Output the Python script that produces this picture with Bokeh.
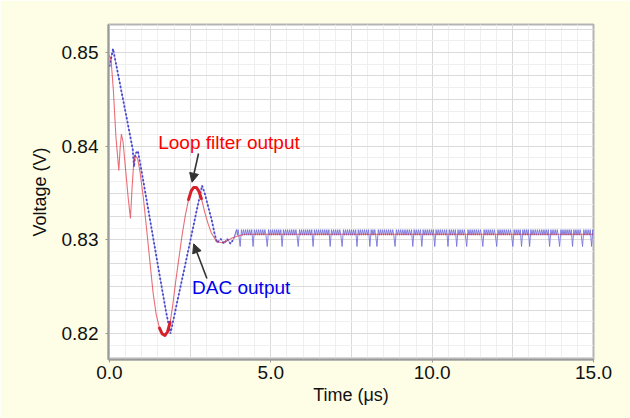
import numpy as np
from bokeh.plotting import figure
from bokeh.models import (Range1d, FixedTicker, SingleIntervalTicker, Arrow,
                          NormalHead, Label, NumeralTickFormatter)
from bokeh.embed import file_html
from bokeh.resources import INLINE

# ---- data ----
dac_t = [0.0, 0.11, 0.30, 0.50, 0.72, 0.76, 0.80, 0.88, 0.95, 1.20, 1.50, 1.75,
         1.89, 2.10, 2.40, 2.70, 2.87, 2.95, 3.10, 3.17, 3.25, 3.33, 3.45, 3.55,
         3.65, 3.75, 3.85]
dac_v = [0.8485, 0.8504, 0.8471, 0.8436, 0.8397, 0.8378, 0.8392, 0.8395, 0.8382,
         0.8333, 0.8273, 0.8224, 0.8200, 0.8234, 0.8282, 0.8331, 0.8358, 0.8350,
         0.8330, 0.8321, 0.8308, 0.8297, 0.8301, 0.8296, 0.8301, 0.8296, 0.8301]

lf_t = [0.0, 0.05, 0.12, 0.20, 0.29, 0.33, 0.37, 0.42, 0.50, 0.58, 0.65, 0.70,
        0.75, 0.80, 0.87, 0.95, 1.05, 1.15, 1.25, 1.35, 1.45, 1.55, 1.63, 1.72,
        1.80, 1.88, 1.96, 2.05, 2.15, 2.25, 2.35, 2.45, 2.53, 2.61, 2.69, 2.77,
        2.85, 2.95, 3.05, 3.15, 3.25, 3.35, 3.49, 3.65, 3.80, 3.95, 4.20, 15.0]
lf_v = [0.8497, 0.8492, 0.8460, 0.8410, 0.8374, 0.8398, 0.8413, 0.8405, 0.8375,
        0.8345, 0.8323, 0.8355, 0.8382, 0.8390, 0.8387, 0.8372, 0.8345, 0.8312,
        0.8278, 0.8244, 0.8220, 0.8206, 0.8200, 0.8198, 0.8202, 0.8212, 0.8230,
        0.8255, 0.8280, 0.8305, 0.8326, 0.8343, 0.8352, 0.8356, 0.8356, 0.8352,
        0.8344, 0.8330, 0.8318, 0.8308, 0.8302, 0.8298, 0.8297, 0.8299, 0.8302,
        0.8304, 0.8306, 0.8306]

dac_dip_times = [4.05, 4.45, 4.89, 5.35, 5.85, 6.31, 6.84, 7.21, 7.67, 8.07, 8.29,
                 8.85, 9.40, 9.68, 10.08, 10.49, 10.76, 11.07, 11.57, 12.00, 12.50,
                 12.77, 13.02, 13.64, 13.95, 14.35, 14.66, 14.94]
dac_hi, dac_lo, dac_dip = 0.8311, 0.8305, 0.8293
steady_start, t_end = 3.9, 15.0

x_ticks = [0, 5, 10, 15]
y_ticks = [0.82, 0.83, 0.84, 0.85]

# ---- steady-state DAC trace built from the dip times ----
ss_t, ss_v = [dac_t[-1]], [dac_v[-1]]
events = [steady_start] + dac_dip_times + [t_end]
for a, b in zip(events[:-1], events[1:]):
    n = max(2, int((b - a) / 0.035))
    for i, tt in enumerate(np.linspace(a + 0.04, b - 0.04, n)):
        ss_t.append(float(tt))
        ss_v.append(dac_hi if i % 2 == 0 else dac_lo)
    if b < t_end:
        ss_t.append(b)
        ss_v.append(dac_dip)

# ---- figure ----
p = figure(width=630, height=418, output_backend="svg", toolbar_location=None,
           x_range=Range1d(-0.03, 15.0), y_range=Range1d(0.81724, 0.85299),
           min_border_left=108, min_border_right=37, min_border_top=24,
           min_border_bottom=59)
p.background_fill_color = "white"
p.border_fill_color = "#fefee6"
p.outline_line_color = "#b4b4b4"
p.outline_line_width = 2

p.xgrid.ticker = SingleIntervalTicker(interval=2.5, num_minor_ticks=5)
p.ygrid.ticker = SingleIntervalTicker(interval=0.0025, num_minor_ticks=2)
for g in (p.xgrid, p.ygrid):
    g.grid_line_color = "#dadada"
    g.grid_line_width = 1
    g.minor_grid_line_color = "#efefef"

p.xaxis.ticker = FixedTicker(ticks=x_ticks)
p.yaxis.ticker = FixedTicker(ticks=y_ticks)
p.xaxis.formatter = NumeralTickFormatter(format="0.0")
p.yaxis.formatter = NumeralTickFormatter(format="0.00")
p.xaxis.axis_label = "Time (μs)"
p.yaxis.axis_label = "Voltage (V)"
for ax in (p.xaxis, p.yaxis):
    ax.axis_line_color = "#9a9a9a"
    ax.axis_line_width = 2
    ax.major_tick_line_color = "#9a9a9a"
    ax.major_tick_out = 3
    ax.major_tick_in = 0
    ax.minor_tick_line_color = None
    ax.major_label_text_font = "Liberation Sans"
    ax.major_label_text_font_size = "19px"
    ax.major_label_text_color = "#111111"
    ax.axis_label_text_font = "Liberation Sans"
    ax.axis_label_text_font_size = "18px"
    ax.axis_label_text_font_style = "normal"
    ax.axis_label_text_color = "#111111"
p.xaxis.major_label_standoff = 3
p.xaxis.axis_label_standoff = 3
p.yaxis.major_label_standoff = 7
p.yaxis.axis_label_standoff = 9

# DAC output (blue, dotted look)
p.line(dac_t + ss_t[1:2], dac_v + ss_v[1:2], line_color="#a0a0ea", line_width=1.0)
p.line(dac_t, dac_v, line_color="#4545cc", line_width=1.8, line_dash="2 2")
p.line(ss_t, ss_v, line_color="#7070dc", line_width=1.0, line_alpha=0.85)

# Loop filter output (red)
p.line(lf_t, lf_v, line_color="#e0303c", line_width=1.1, line_alpha=0.7)
sel1 = [i for i, t in enumerate(lf_t) if 1.50 <= t <= 1.92]
sel2 = [i for i, t in enumerate(lf_t) if 2.45 <= t <= 2.86]
for sel in (sel1, sel2):
    p.line([lf_t[i] for i in sel], [lf_v[i] for i in sel],
           line_color="#d8202a", line_width=3, line_join="round", line_cap="round")

# annotations
p.add_layout(Label(x=1.51, y=0.84043, text="Loop filter output",
                   text_color="#ff0000", text_font="Liberation Sans",
                   text_font_size="19px", text_baseline="middle"))
p.add_layout(Label(x=2.56, y=0.82495, text="DAC output",
                   text_color="#0000ee", text_font="Liberation Sans",
                   text_font_size="19px", text_baseline="middle"))
p.add_layout(Arrow(x_start=2.76, y_start=0.83922, x_end=2.56, y_end=0.83616,
                   line_color="#333333", line_width=1.6,
                   end=NormalHead(size=9, fill_color="#333333", line_color="#333333")))
p.add_layout(Arrow(x_start=3.02, y_start=0.82588, x_end=2.61, y_end=0.82958,
                   line_color="#333333", line_width=1.6,
                   end=NormalHead(size=9, fill_color="#333333", line_color="#333333")))

open("out.html", "w").write(file_html(p, INLINE))
